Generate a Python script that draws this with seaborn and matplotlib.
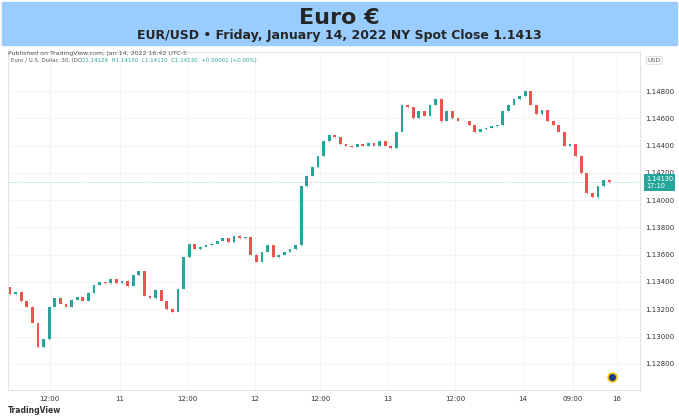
import numpy as np
import matplotlib
matplotlib.use("Agg")
import matplotlib.pyplot as plt
import seaborn as sns

# hourly closes (EUR/USD, Jan 10-14 2022)
closes = [1.1331, 1.1333, 1.1326, 1.1322, 1.1310, 1.1292, 1.1298, 1.1322, 1.1328, 1.1324,
          1.1322, 1.1327, 1.1329, 1.1326, 1.1332, 1.1338, 1.1340, 1.1339, 1.1342, 1.1339,
          1.1341, 1.1337, 1.1345, 1.1348, 1.1330, 1.1328, 1.1334, 1.1326, 1.1320, 1.1318,
          1.1335, 1.1358, 1.1368, 1.1364, 1.1366, 1.1367, 1.1368, 1.1370, 1.1372, 1.1369,
          1.1374, 1.1372, 1.1373, 1.1360, 1.1355, 1.1362, 1.1367, 1.1358, 1.1360, 1.1362,
          1.1364, 1.1367, 1.1410, 1.1418, 1.1424, 1.1432, 1.1443, 1.1448, 1.1446, 1.1441,
          1.1440, 1.1439, 1.1441, 1.1440, 1.1442, 1.1440, 1.1443, 1.1440, 1.1438, 1.1450,
          1.1470, 1.1468, 1.1460, 1.1465, 1.1462, 1.1470, 1.1474, 1.1458, 1.1465, 1.1460,
          1.1458, 1.1458, 1.1455, 1.1450, 1.1452, 1.1453, 1.1454, 1.1455, 1.1465, 1.1470,
          1.1474, 1.1476, 1.1480, 1.1470, 1.1463, 1.1466, 1.1458, 1.1455, 1.1450, 1.1440,
          1.1441, 1.1432, 1.1420, 1.1405, 1.1402, 1.1410, 1.1415, 1.1413]
first_open = 1.1336
# wick length beyond the body, in pips
wick_up = [6, 3, 3, 2, 3, 2, 4, 3, 3, 2, 3, 2, 3, 2, 3, 3, 2, 3, 3, 2,
           3, 3, 4, 3, 3, 3, 2, 3, 4, 8, 3, 4, 3, 2, 3, 2, 2, 3, 3, 2,
           3, 2, 3, 3, 3, 3, 3, 2, 3, 3, 2, 3, 4, 6, 4, 3, 4, 3, 3, 3,
           2, 3, 4, 3, 3, 3, 4, 2, 3, 4, 6, 7, 4, 4, 5, 3, 8, 3, 4, 3,
           3, 3, 3, 2, 2, 3, 3, 3, 3, 3, 3, 2, 4, 3, 4, 3, 3, 3, 3, 6,
           6, 3, 4, 2, 3, 3, 3, 2]
wick_dn = [4, 3, 4, 3, 3, 4, 3, 3, 3, 2, 3, 3, 2, 3, 2, 3, 3, 3, 2, 3,
           3, 4, 2, 3, 4, 4, 3, 3, 6, 5, 3, 3, 3, 4, 3, 2, 3, 3, 2, 3,
           2, 3, 2, 4, 3, 3, 2, 4, 3, 3, 2, 3, 8, 5, 4, 3, 3, 3, 4, 3,
           3, 5, 3, 3, 4, 3, 3, 4, 4, 3, 3, 5, 5, 4, 6, 3, 3, 12, 3, 4,
           3, 3, 3, 5, 4, 3, 3, 3, 3, 3, 3, 3, 2, 4, 4, 3, 4, 3, 3, 4,
           5, 4, 5, 4, 5, 3, 3, 2]

price_ticks = [1.128, 1.130, 1.132, 1.134, 1.136, 1.138, 1.140, 1.142, 1.144, 1.146, 1.148]
time_labels = ["12:00", "11", "12:00", "12", "12:00", "13", "12:00", "14", "09:00", "16"]
time_pos = [7.1, 19.6, 31.6, 43.75, 55.4, 67.5, 79.5, 91.6, 100.5, 108.4]

UP = "#26a69a"
DOWN = "#ef5350"

sns.set_style("white")
plt.rcParams["font.family"] = ["DejaVu Sans"]

fig = plt.figure(figsize=(6.79, 4.18), dpi=100)

# header band
fig.patches.append(plt.Rectangle((0.003, 0.893), 0.994, 0.102, transform=fig.transFigure,
                                 color="#99ccff", zorder=0))
fig.text(0.5, 0.958, "Euro €", ha="center", va="center", fontsize=16, fontweight="bold")
fig.text(0.5, 0.914, "EUR/USD • Friday, January 14, 2022 NY Spot Close 1.1413",
         ha="center", va="center", fontsize=9, fontweight="bold")
fig.text(0.012, 0.873, "Published on TradingView.com, Jan 14, 2022 16:42 UTC-5",
         ha="left", va="center", fontsize=4.5, color="#555555")
fig.text(0.012, 0.018, "TradingView", ha="left", va="center", fontsize=5.5,
         fontweight="bold", color="#333333")

ax = fig.add_axes([8 / 679, 28 / 418, 632 / 679, 338 / 418])

n = len(closes)
idx = np.arange(n)
opens = np.array([first_open] + closes[:-1])
cl = np.array(closes)
hi = np.maximum(opens, cl) + np.array(wick_up) * 1e-5
lo = np.minimum(opens, cl) - np.array(wick_dn) * 1e-5
colors = np.where(cl >= opens, UP, DOWN)

ax.vlines(idx, lo, hi, colors=colors, linewidth=0.8, alpha=0.5)
ax.bar(idx, np.maximum(np.abs(cl - opens), 0.00003), bottom=np.minimum(opens, cl),
       width=0.5, color=colors, linewidth=0)

ax.axhline(closes[-1], color=UP, linestyle=":", linewidth=0.6, alpha=0.6)

ax.set_xlim(-0.36, 112.5)
ax.set_ylim(1.12608, 1.15086)
ax.yaxis.tick_right()
ax.set_yticks(price_ticks)
ax.set_yticklabels([f"{p:.5f}" for p in price_ticks], fontsize=5, color="#333333")
ax.set_xticks(time_pos)
ax.set_xticklabels(time_labels, fontsize=5, color="#333333")
ax.tick_params(length=0, pad=4)
ax.grid(True, color="#f2f2f2", linewidth=0.6)
for s in ax.spines.values():
    s.set_color("#dddddd")
    s.set_linewidth(0.6)

ax.text(0.005, 0.975, "Euro / U.S. Dollar, 30, IDC", transform=ax.transAxes,
        fontsize=4, color="#555555", va="center")
ax.text(0.115, 0.975, "O1.14126  H1.14150  L1.14110  C1.14130  +0.00001 (+0.00%)",
        transform=ax.transAxes, fontsize=4, color=UP, va="center")
ax.text(1.012, 0.975, "USD", transform=ax.transAxes, fontsize=4.5, color="#555555",
        va="center", ha="left", bbox=dict(boxstyle="round,pad=0.2", fc="white", ec="#cccccc", lw=0.5))
ax.text(1.01, closes[-1], "1.14130\n17:10", transform=ax.get_yaxis_transform(),
        fontsize=4.8, color="white", va="center", ha="left",
        bbox=dict(boxstyle="square,pad=0.3", fc=UP, ec="none"), clip_on=False)
ax.scatter([107.5], [1.1270], s=40, color="#1e3a8a", edgecolor="#f5c518", linewidth=1.2,
           zorder=5)

fig.savefig("out.png", dpi=100)
